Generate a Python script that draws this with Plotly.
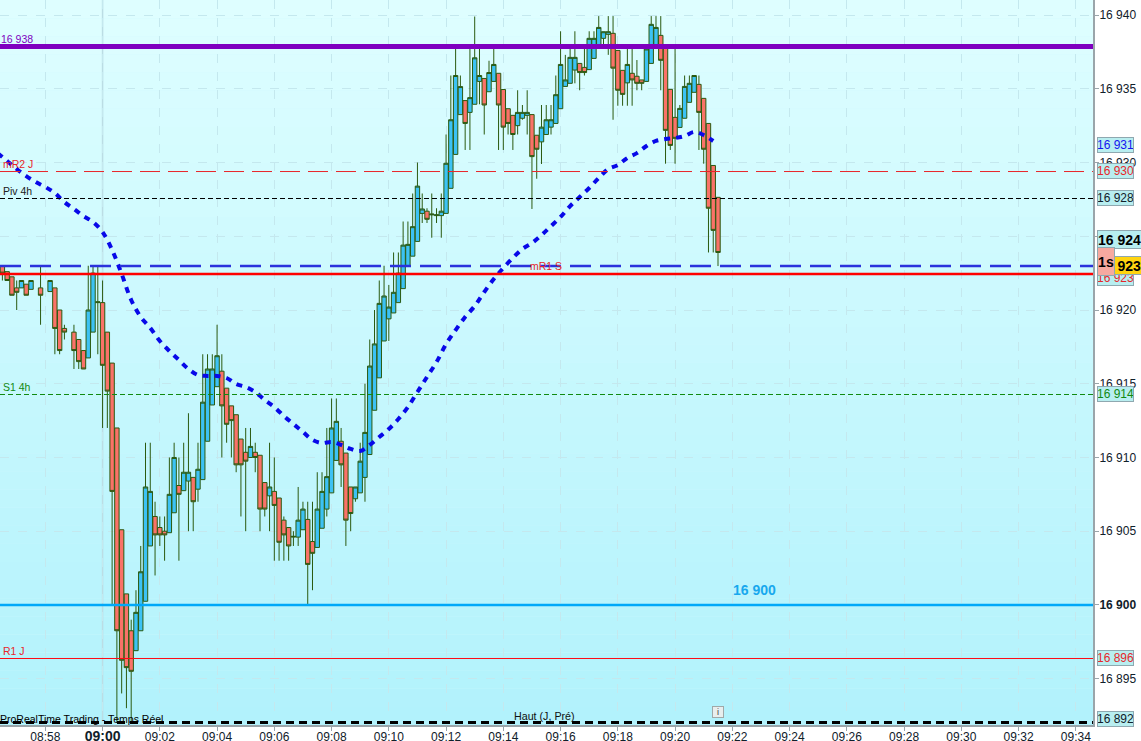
import datetime as dt
import plotly.graph_objects as go

PRICE_BASE = 16900
FIRST_SLOT = dt.datetime(2023, 1, 2, 8, 56, 30)
SLOT_SECONDS = 10

# Candles, one row per 10-second slot, in points above PRICE_BASE (None = no candle)
open_pts = [23,22.6,22.25,21.5,21.5,21.75,21.4,None,21.5,None,21.25,21.5,20,18.75,None,18.5,18,17.25,16.75,18.5,20.5,
 20.5,18.5,16.4,12,5.1,0.75,-1.75,-3.1,-1.75,0.25,4,6,5.25,5,4.9,6.25,8.1,7.75,8.4,8.65,7.85,8.5,11.1,13.56,14.8,15.85,14.7,13.5,12.9,11.25,
 10.35,10,10.35,10.15,8.3,7.4,7.7,7.25,5.75,5.25,4.6,4.6,5.1,5.8,4.3,3.9,5.2,6.5,7.6,9.8,11.1,10.3,8,7.2,7.6,8.65,10.2,13.2,15.4,17.9,
 19.4,19.8,20.5,21.45,23,23.65,24.65,26.55,26.7,26.45,26.4,26.4,26.55,28.25,30.55,33.25,34.2,33.4,33.95,35.5,35.7,34.8,35.5,36.05,34.95,33.65,33.2,32.5,33,33.2,
 33.25,31.85,31.4,31.9,32.4,32.65,33.65,35.16,35.37,36.27,36.72,36.45,36.3,37.06,38,38.42,38.69,38.76,37.6,36.25,35.4,36.05,35.85,35.6,35.5,36.72,37.8,38.62,
 37.74,34.96,33.06,32.38,33,34.08,34.76,35.3,34.35,32.65,29.8,27.64]
high_pts = [23,22.6,22.25,22,22,21.75,22,None,23,None,22,21.5,20,19,None,19,18,17.25,23,23,23,
 22,18.5,16.4,12,5.1,0.75,-1,1,4,11,11,7,6,6,10,11,10,11,13,8.65,11,17,17,17,19,17,14.7,13.5,12.9,11.25,
 12,12,11,10.15,8.3,11,10,7.25,6,5.25,5,8,7,7,7,9,9,12,14,14,12,10.3,8,8,11,15,18,20,22,23,
 21.7,23.9,23.9,26,26,27.9,30,27.9,26.9,27.9,26.9,27.9,31.9,35.9,37.7,35.9,34.2,37.7,39.9,37.7,35.7,36.9,37.7,36.05,34.95,33.65,33.2,34.9,33.9,34.9,
 33.25,31.85,33.9,33.9,33.9,35.9,38.9,37.3,37.7,38.9,36.72,37.7,38.9,38.9,39.93,38.87,39.93,39.93,37.6,36.25,37.7,37.7,36.95,35.6,37.7,39.93,39.93,39.93,
 37.74,34.96,37.7,33.9,35.9,35.9,35.9,35.9,34.35,32.65,29.8,27.64]
low_pts = [22,22,21,20,21.5,21,21.4,None,19,None,21.25,17,17,18,None,16,16,16,16.75,18.5,17,
 12,12,0,-8,-6,-7,-8,-3.1,-1.75,0.25,4,2,4,3,4.9,6.25,3,7.75,5,5,7,8.5,11.1,13.56,14.8,10,11,10,9,6,
 5,10,9,5,6,5,3,3,3,3,4,4,5.1,0,1,3.9,5.2,6,7.6,9.8,8,4,5,7,7.6,7,10.2,13.2,15.4,17.9,
 17.9,19.8,20.5,21.45,23,23.65,24.65,25.9,25.9,24.9,25.9,24.9,26.55,28.25,30.55,33.25,30.85,30.85,33.95,33.95,31.9,34.8,35.5,30.85,30.85,31.9,30.85,31.9,32.9,31.9,
 26.85,28.9,29.9,31.9,31.9,32.65,33.65,35.16,35.37,35.37,34.9,35.9,36.3,37.06,38,38,37.3,32.9,33.85,33.85,33.85,33.85,34.9,34.9,35.5,36.72,37.8,34.9,
 29.92,30.85,29.92,32.38,33,34.08,34.76,30.85,29.92,23.9,23.9,22.98]
close_pts = [22.5,22,21,21.2,22,21,22,None,21,None,22,18.75,17.25,18.5,None,17.25,16.5,16,20,22.5,20.55,
 16.25,14.5,7.7,-1.75,-3.75,-4.25,-4.5,-0.5,2.25,8,7.7,4.75,4.75,4.75,7.5,10,7.5,9,9,7,9.2,13.75,16,16,16.9,13.5,12.25,12.5,9.5,9.5,
 9.75,10.75,10,6.5,6.5,8,6.75,4.25,4.75,4,4.65,5.75,6.5,2.75,3.5,6.5,7.7,8.7,12,12.45,9.5,5.75,6.2,8,9.75,11.7,16.2,17.7,20.45,20.95,
 20.2,21.2,22.5,24.4,24.45,25.65,28.4,26.85,26.15,26.5,26.45,26.7,29.95,32.9,35.9,35.15,32.65,34.4,37.1,35.9,33.9,36.1,36.65,33.9,32.4,32.65,31.9,33.4,33.4,33.4,
 30.4,30.9,32.4,32.9,32.9,34.6,36.65,35.6,37.13,37.13,36.1,36.1,38.42,38.42,39.16,38.87,38.87,36.4,34.9,34.62,36.65,35.6,35.37,35.37,37.7,39.37,39.16,36.93,
 32.18,31.16,31.64,33.67,35.16,35.37,35.9,33.4,30.9,26.9,25.4,23.9]

# Moving average, one value every 20 seconds starting at 08:56:20, points above PRICE_BASE
ma_pts = [30.64,30.1,29.56,29.08,28.68,28.34,27.93,27.32,26.85,26.37,25.97,25.29,24.07,22.44,20.68,19.53,18.78,17.9,17.22,16.61,16.0,
 15.59,15.53,15.53,15.39,14.98,14.78,14.44,13.9,13.42,12.81,12.27,11.73,11.19,10.98,11.05,10.85,10.58,10.44,10.85,11.39,11.93,12.61,13.42,14.44,
 15.46,16.47,17.69,18.64,19.53,20.27,21.22,22.1,22.85,23.53,24.14,24.54,25.08,25.69,26.31,27.05,27.66,28.27,28.95,29.56,29.83,30.31,30.64,31.12,31.46,31.59,31.66,31.8,32.07,31.86,31.46]
ma_start = dt.datetime(2023, 1, 2, 8, 56, 20)

# Horizontal levels: price, colour, width, dash
level_names = ["16 938", "mR2 J", "Piv 4h", "mR1 S", "S1 4h", "16 900", "R1 J", "Haut"]
level_prices = [16937.87, 16929.39, 16927.56, 16922.98, 16914.27, 16900.0, 16896.37, 16892.03]
level_colors = ["#7F00BF", "#E8262A", "#000000", "#2B32DC", "#118A11", "#00A8F8", "#FF0A14", "#000000"]
level_widths = [5, 1, 1, 2.5, 1, 2.5, 1, 3]
level_dashes = ["solid", "20px,8px", "5px,3px", "21px,9px", "5px,3px", "solid", "solid", "8px,5px"]
support_price = 16922.44

y_ticks = [16895, 16900, 16905, 16910, 16915, 16920, 16925, 16930, 16935, 16940]
y_tick_text = ["16 895", "<b>16 900</b>", "16 905", "16 910", "16 915", "16 920", "16 925", "16 930", "16 935", "16 940"]
x_labels = ["08:58", "09:00", "09:02", "09:04", "09:06", "09:08", "09:10", "09:12", "09:14", "09:16", "09:18",
            "09:20", "09:22", "09:24", "09:26", "09:28", "09:30", "09:32", "09:34"]

# Right-hand value boxes
box_text = ["16 931", "16 930", "16 928", "16 924", "16 914", "16 896", "16 892", "16 923", "16 923", "1s"]
box_price = [16931.19, 16929.42, 16927.6, 16924.75, 16914.3, 16896.4, 16892.3, 16922.17, 16923.05, 16923.3]
box_font = ["#1414F0", "#E8262A", "#10202A", "#000000", "#118A11", "#E8262A", "#10202A", "#E8262A", "#000000", "#000000"]
box_fill = ["#B8EEF0"] * 7 + ["#B8EEF0", "#FFD410", "#F7A9A0"]
box_bold = [False, False, False, True, False, False, False, False, True, True]
box_width = [35, 35, 35, 43, 35, 35, 35, 35, 43, 16]
box_height = [14, 14, 14, 17, 14, 14, 14, 14, 17, 27]

# Free text inside the plot: text, price, colour, left offset
note_text = ["16 938", "mR2 J", "Piv 4h", "S1 4h", "R1 J", "ProRealTime Trading - Temps Réel"]
note_price = [16938.4, 16929.9, 16928.05, 16914.8, 16896.85, 16892.3]
note_color = ["#8000C0", "#E8262A", "#202020", "#118A11", "#E8262A", "#000000"]
note_left = [-1, 1, 1, 1, 1, -2]

slots = [FIRST_SLOT + dt.timedelta(seconds=SLOT_SECONDS * i) for i in range(len(open_pts))]
keep = [i for i, v in enumerate(open_pts) if v is not None]
OUT = "#2B5A10"

fig = go.Figure()
fig.add_trace(go.Candlestick(
    x=[slots[i] for i in keep],
    open=[PRICE_BASE + open_pts[i] for i in keep],
    high=[PRICE_BASE + high_pts[i] for i in keep],
    low=[PRICE_BASE + low_pts[i] for i in keep],
    close=[PRICE_BASE + close_pts[i] for i in keep],
    increasing=dict(line=dict(color=OUT, width=1), fillcolor="#3CC2F4"),
    decreasing=dict(line=dict(color=OUT, width=1), fillcolor="#FA7268"),
    whiskerwidth=0, showlegend=False, hoverinfo="skip",
))
fig.add_trace(go.Scatter(
    x=[ma_start + dt.timedelta(seconds=20 * i) for i in range(len(ma_pts))],
    y=[PRICE_BASE + v for v in ma_pts],
    mode="lines", line=dict(color="#0808E8", width=4, dash="6px,6px", shape="spline"),
    showlegend=False, hoverinfo="skip",
))

shapes = []
# vertical gradient background
N = 40
top, bottom = (222, 254, 255), (178, 242, 252)
for i in range(N):
    f = i / (N - 1)
    c = tuple(round(top[j] + (bottom[j] - top[j]) * f) for j in range(3))
    shapes.append(dict(type="rect", xref="paper", yref="paper", x0=0, x1=1,
                       y0=1 - (i + 1) / N, y1=1 - i / N, layer="below",
                       line=dict(width=0), fillcolor="rgb(%d,%d,%d)" % c))
shapes.append(dict(type="line", xref="x", yref="paper", x0=dt.datetime(2023, 1, 2, 9, 0),
                   x1=dt.datetime(2023, 1, 2, 9, 0), y0=0, y1=1, layer="between",
                   line=dict(color="#BBDDE4", width=1.5)))
for p, col, w, d in zip(level_prices, level_colors, level_widths, level_dashes):
    shapes.append(dict(type="line", xref="paper", yref="y", x0=0, x1=1, y0=p, y1=p,
                       layer="above", line=dict(color=col, width=w, dash=d)))
shapes.append(dict(type="line", xref="paper", yref="y", x0=0, x1=1, y0=support_price, y1=support_price,
                   layer="above", line=dict(color="#FF0000", width=2.5)))

FONT = "Liberation Sans, Arial, sans-serif"
PLOT_W = 1092.7
ann = []
for t, p, c, l in zip(note_text, note_price, note_color, note_left):
    ann.append(dict(text=t, xref="paper", yref="y", x=l / PLOT_W, y=p, xanchor="left", yanchor="middle",
                    showarrow=False, font=dict(family=FONT, size=10.5, color=c)))
ann.append(dict(text="mR1 S", xref="x", yref="y", x=dt.datetime(2023, 1, 2, 9, 15, 30), y=16922.95,
                xanchor="center", yanchor="middle", showarrow=False, font=dict(family=FONT, size=10.5, color="#E8262A")))
ann.append(dict(text="Haut (J, Pré)", xref="x", yref="y", x=dt.datetime(2023, 1, 2, 9, 15, 26), y=16892.5,
                xanchor="center", yanchor="middle", showarrow=False, font=dict(family=FONT, size=10.7, color="#101010")))
ann.append(dict(text="<b>16 900</b>", xref="x", yref="y", x=dt.datetime(2023, 1, 2, 9, 22, 47), y=16901.0,
                xanchor="center", yanchor="middle", showarrow=False, font=dict(family=FONT, size=14, color="#18A8EE")))
ann.append(dict(text="i", xref="x", yref="y", x=dt.datetime(2023, 1, 2, 9, 21, 29), y=16892.75,
                xanchor="center", yanchor="middle", showarrow=False, width=10, height=10, borderpad=0,
                bgcolor="#E8EEEE", bordercolor="#A0A8A8", borderwidth=1, font=dict(family=FONT, size=9, color="#404040")))
for t, p, fc, bg, b, w, h in zip(box_text, box_price, box_font, box_fill, box_bold, box_width, box_height):
    ann.append(dict(text="<b>%s</b>" % t if b else t, xref="paper", yref="y", x=1097 / PLOT_W, y=p,
                    xanchor="left", yanchor="middle", showarrow=False, align="center",
                    width=w, height=h, borderpad=0, bgcolor=bg, bordercolor="#8FA8B0", borderwidth=1,
                    font=dict(family=FONT, size=14 if b else 12, color=fc)))

x_vals = [dt.datetime(2023, 1, 2, int(s[:2]), int(s[3:])) for s in x_labels]
x_text = ['<span style="font-size:14px"><b>%s</b></span>' % s if s == "09:00" else s for s in x_labels]

fig.update_layout(
    width=1141, height=741, autosize=False,
    margin=dict(l=0, r=48.3, t=0, b=16, pad=0),
    paper_bgcolor="#FFFFFF", plot_bgcolor="#D0F8FF",
    boxgap=0.08, boxgroupgap=0, dragmode=False,
    shapes=shapes, annotations=ann,
    font=dict(family=FONT, size=12, color="#10202A"),
    xaxis=dict(
        type="date", automargin=False,
        range=[dt.datetime(2023, 1, 2, 8, 56, 25), dt.datetime(2023, 1, 2, 9, 34, 36)],
        tickvals=x_vals, ticktext=x_text, tickangle=0, ticks="outside", ticklen=4, tickcolor="#9AA5AA",
        ticklabelstandoff=-4,
        showgrid=True, gridcolor="#C4E8EE", griddash="dash", gridwidth=1,
        showline=True, linecolor="#9AA5AA", linewidth=2, zeroline=False,
        rangeslider=dict(visible=False), tickfont=dict(family=FONT, size=12),
    ),
    yaxis=dict(
        side="right", range=[16891.86, 16941.02], automargin=False,
        tickvals=y_ticks, ticktext=y_tick_text,
        ticks="outside", ticklen=4, tickcolor="#9AA5AA", ticklabelstandoff=-2,
        showgrid=True, gridcolor="#C4E8EE", griddash="dash", gridwidth=1,
        showline=True, linecolor="#9AA5AA", linewidth=2, zeroline=False,
        tickfont=dict(family=FONT, size=12),
    ),
)
fig.write_html("out.html", post_script="document.body.style.margin='0';", config=dict(displayModeBar=False))
